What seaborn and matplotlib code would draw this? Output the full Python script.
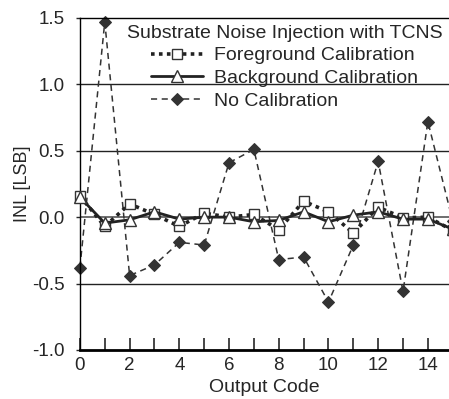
import seaborn as sns
import matplotlib.pyplot as plt

# INL per output code
codes = list(range(16))
foreground = [0.16, -0.07, 0.10, 0.02, -0.07, 0.03, 0.00, 0.02, -0.095, 0.12, 0.04, -0.12, 0.075, -0.005, 0.0, -0.10]
background = [0.15, -0.045, -0.02, 0.04, -0.015, 0.0, 0.0, -0.035, -0.025, 0.04, -0.035, 0.015, 0.04, -0.015, -0.015, -0.09]
no_cal = [-0.38, 1.47, -0.44, -0.36, -0.19, -0.21, 0.41, 0.51, -0.32, -0.30, -0.64, -0.21, 0.42, -0.56, 0.72, -0.03]

sns.set_style('white')
plt.rcParams['font.family'] = ['Liberation Sans', 'DejaVu Sans']

fig = plt.figure(figsize=(4.49, 3.99), dpi=100)
ax = fig.add_axes([0.178, 0.123, 0.822, 0.832])

# horizontal reference lines
for yv in [1.0, 0.5, -0.5]:
    ax.axhline(yv, color='#222222', lw=1.0, zorder=0)
ax.axhline(0.0, color='#555555', lw=1.2, zorder=0)

sns.lineplot(x=codes, y=foreground, ax=ax, color='#222222', linestyle=(0, (1, 1.2)), lw=2.6,
             marker='s', markersize=6.5, markerfacecolor='white', markeredgecolor='#333333',
             markeredgewidth=1.0, label='Foreground Calibration', zorder=3, clip_on=False)
sns.lineplot(x=codes, y=background, ax=ax, color='#222222', linestyle='-', lw=2.0,
             marker='^', markersize=8, markerfacecolor='white', markeredgecolor='#333333',
             markeredgewidth=1.0, label='Background Calibration', zorder=4, clip_on=False)
sns.lineplot(x=codes, y=no_cal, ax=ax, color='#333333', linestyle=(0, (4, 3)), lw=1.1,
             marker='D', markersize=6, markerfacecolor='#333333', markeredgecolor='#333333',
             label='No Calibration', zorder=2, clip_on=False)

ax.set_xlim(0, 14.85)
ax.set_ylim(-1.0, 1.5)
ax.set_xticks(range(0, 15))
ax.set_xticklabels([str(c) if c % 2 == 0 else '' for c in range(0, 15)])
ax.set_yticks([-1.0, -0.5, 0.0, 0.5, 1.0, 1.5])
ax.set_yticklabels(['-1.0', '-0.5', '0.0', '0.5', '1.0', '1.5'])
ax.tick_params(axis='x', direction='in', length=9, width=1.2, pad=5, labelsize=13.5, bottom=True)
ax.tick_params(axis='y', direction='out', length=3, width=1, pad=8, labelsize=13.5, left=True)

for s in ['left', 'top']:
    ax.spines[s].set_color('black')
    ax.spines[s].set_linewidth(1.0)
ax.spines['bottom'].set_color('black')
ax.spines['bottom'].set_linewidth(2.0)
ax.spines['right'].set_visible(False)

ax.set_xlabel('Output Code', fontsize=14, labelpad=4)
ax.set_ylabel('INL [LSB]', fontsize=13, labelpad=1,
              family=['Liberation Sans Narrow', 'Liberation Sans'])

leg = ax.legend(title='Substrate Noise Injection with TCNS', loc='upper right',
                bbox_to_anchor=(1.0, 1.0), frameon=False, fontsize=14,
                title_fontsize=14, handlelength=2.7, handletextpad=0.55,
                labelspacing=0.26, borderaxespad=0.1, borderpad=0.25)
leg._legend_box.align = 'center'

fig.savefig('out.png', dpi=100)
